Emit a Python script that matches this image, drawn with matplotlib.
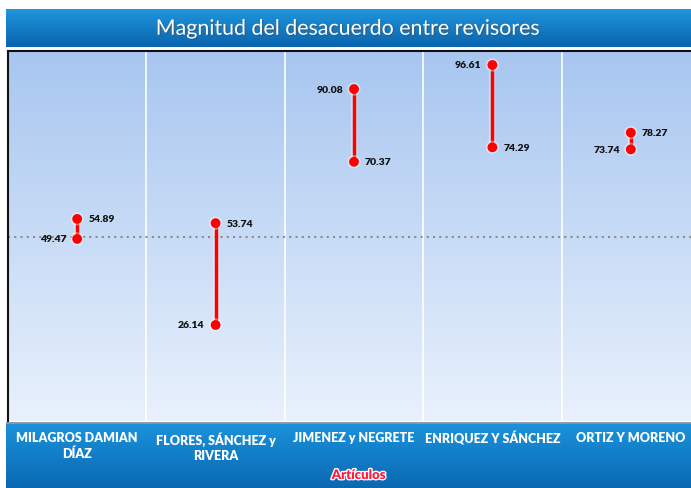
import numpy as np
import matplotlib
matplotlib.use("Agg")
import matplotlib.pyplot as plt
import matplotlib.patheffects as pe
from matplotlib.colors import LinearSegmentedColormap

# datos
articulos = ["MILAGROS DAMIAN\nDÍAZ", "FLORES, SÁNCHEZ y\nRIVERA", "JIMENEZ y NEGRETE",
             "ENRIQUEZ Y SÁNCHEZ", "ORTIZ Y MORENO"]
revisor_1 = [54.89, 53.74, 70.37, 74.29, 78.27]
revisor_2 = [49.47, 26.14, 90.08, 96.61, 73.74]
referencia = 50

W, H = 691, 489
fig = plt.figure(figsize=(W / 100, H / 100), dpi=100)
fig.patch.set_facecolor("white")
FONT = ["Lato", "DejaVu Sans"]


def px_axes(x0, y0, x1, y1):
    # coordenadas en pixeles (origen arriba a la izquierda)
    return fig.add_axes([x0 / W, 1 - y1 / H, (x1 - x0) / W, (y1 - y0) / H])


def gradiente(ax, c_arriba, c_abajo, z=0):
    cmap = LinearSegmentedColormap.from_list("g", [c_arriba, c_abajo])
    grad = np.linspace(0, 1, 256).reshape(-1, 1)
    ax.imshow(grad, aspect="auto", cmap=cmap, extent=[0, 1, 0, 1],
              transform=ax.transAxes, zorder=z, interpolation="bicubic")


# barra del título
ax_t = px_axes(6, 10, W, 48)
gradiente(ax_t, "#1f95dc", "#0a64ae")
ax_t.set_axis_off()
ax_t.text(0.5, 0.48, "Magnitud del desacuerdo entre revisores", transform=ax_t.transAxes,
          ha="center", va="center", color="white", fontsize=15.4, family=FONT,
          path_effects=[pe.withSimplePatchShadow(offset=(1, -1), alpha=0.5)])

# barra inferior
ax_b = px_axes(6, 423, W, H)
gradiente(ax_b, "#1b93dc", "#0a68b2")
ax_b.set_axis_off()
ax_b.axhline(1, color="#8a9aa8", lw=2)

# área de trazado
ax = px_axes(8, 52, W, 422.4)
gradiente(ax, "#a7c6f0", "#e9f1fc")
ax.set_ylim(0, 100.4)
ax.set_xlim(-0.5, 4.435)
x = np.arange(len(articulos))

for xi in x[:-1] + 0.5:
    ax.axvline(xi, color="white", lw=1.2, zorder=1)
ax.axhline(referencia, color="#8c8c8c", lw=1.5, ls=(0, (1, 2)), zorder=2)

glow = [pe.Stroke(linewidth=4.5, foreground="white", alpha=0.35), pe.Normal()]
for xi, a, b in zip(x, revisor_1, revisor_2):
    ax.plot([xi, xi], [a, b], color="#ff0000", lw=2.5, zorder=3,
            solid_capstyle="butt", path_effects=glow)
    ax.plot([xi, xi], [a, b], "o", color="#ff0000", ms=7, zorder=4,
            markeredgewidth=0, path_effects=[pe.Stroke(linewidth=2.5, foreground="white", alpha=0.4), pe.Normal()])
    ax.annotate(f"{a:.2f}", (xi, a), xytext=(8, 0), textcoords="offset points",
                ha="left", va="center", fontsize=7.5, fontweight="heavy", family=FONT, color="#111111")
    ax.annotate(f"{b:.2f}", (xi, b), xytext=(-8, 0), textcoords="offset points",
                ha="right", va="center", fontsize=7.5, fontweight="heavy", family=FONT, color="#111111")

ax.set_xticks([])
ax.set_yticks([])
for s in ["right", "bottom"]:
    ax.spines[s].set_visible(False)
ax.spines["top"].set_color("#111111")
ax.spines["left"].set_color("#111111")
ax.spines["top"].set_linewidth(1.5)
ax.spines["left"].set_linewidth(1.5)

# etiquetas de categorías
for xi, lab in zip(x, articulos):
    disp = ax.transData.transform((xi, 0))[0]
    fig.text(disp / W, 1 - 432 / H, lab, ha="center", va="top", color="white",
             fontsize=9, fontweight="heavy", family=FONT, linespacing=1.35)

fig.text(359 / W, 1 - 476 / H, "Artículos", ha="center", va="center", color="#ff1a3c",
         fontsize=9.5, fontweight="heavy", family=FONT,
         path_effects=[pe.Stroke(linewidth=2, foreground="white"), pe.Normal()])

fig.savefig("out.png", dpi=100)
